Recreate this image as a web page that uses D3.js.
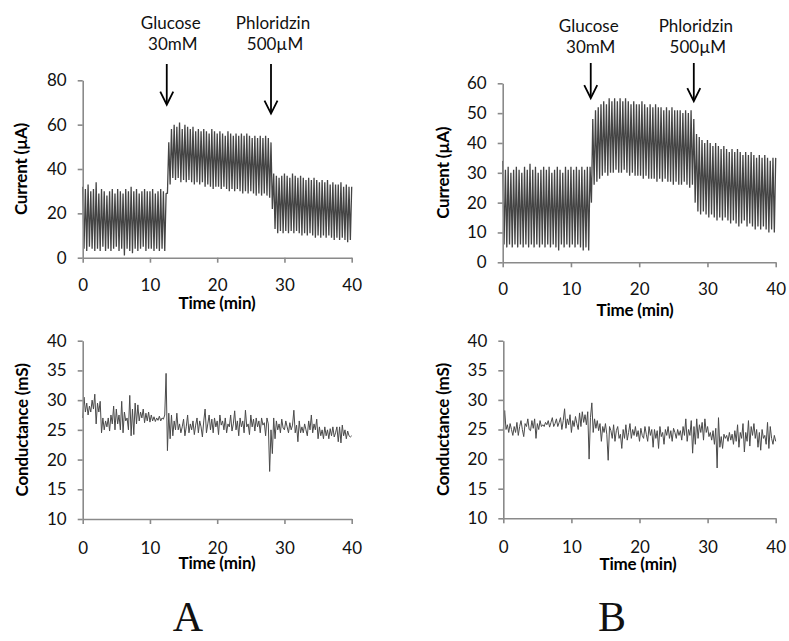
<!DOCTYPE html>
<html>
<head>
<meta charset="utf-8">
<script src="https://cdn.jsdelivr.net/npm/d3@7/dist/d3.min.js"></script>
<style>
  html, body { margin: 0; padding: 0; background: #fff; }
  svg { display: block; }
  text { font-family: Lato, "Open Sans", sans-serif; }
</style>
</head>
<body>
<script>
// ---------------- DATA ----------------
const timeStep = 0.2; // minutes between samples
const xTicks = [0, 10, 20, 30, 40];
const currentATicks = [0, 20, 40, 60, 80];
const currentBTicks = [0, 10, 20, 30, 40, 50, 60];
const conductanceTicks = [10, 15, 20, 25, 30, 35, 40];
const eventLabels = [["Glucose", "30mM"], ["Phloridzin", "500µM"]];
const eventTimesA = [12.5, 28];
const eventTimesB = [12.9, 28];
const arrowTipA = [69, 65];
const arrowTipB = [55, 54];
const panelLabels = ["A", "B"];

// Current trace, panel A (alternating peaks / troughs, µA)
const currentA = [
  32, 4, 31, 3, 33, 5, 30, 4, 31, 3,
  34, 4, 29, 3, 31, 5, 30, 3, 28, 4,
  30, 3, 31, 4, 29, 5, 31, 3, 30, 4,
  29, 1, 31, 4, 30, 3, 32, 2, 30, 4,
  31, 3, 29, 4, 30, 5, 31, 3, 30, 4,
  30, 4, 31, 3, 29, 4, 30, 3, 31, 4,
  30, 3, 29, 29, 52, 33, 58, 36,
  60, 35, 59, 36, 61, 34, 58, 35, 60, 34, 59, 35,
  58, 34, 59, 33, 57, 34, 58, 33, 57, 34,
  58, 32, 57, 33, 56, 32, 58, 31, 57, 32,
  56, 32, 57, 31, 56, 32, 55, 31, 57, 30,
  56, 31, 55, 30, 56, 31, 55, 30, 56, 29,
  55, 30, 56, 29, 55, 30, 54, 29, 55, 28,
  54, 29, 55, 28, 54, 29, 55, 28, 54, 27,
  52, 22, 38, 13, 37, 11, 36, 12, 37, 11,
  38, 12, 37, 11, 36, 12, 38, 11, 37, 12,
  36, 11, 37, 10, 36, 11, 35, 10, 36, 11,
  35, 10, 36, 9, 35, 10, 34, 9, 35, 10,
  34, 9, 35, 10, 33, 9, 34, 8, 33, 9,
  33, 8, 34, 9, 32, 8, 33, 7, 32, 8, 32
];

// Current trace, panel B (µA)
const currentB = [
  34, 6, 31, 5, 32, 6, 30, 5, 31, 6,
  32, 5, 31, 6, 30, 5, 32, 6, 31, 5,
  33, 6, 31, 5, 32, 6, 30, 5, 31, 6,
  32, 5, 31, 6, 32, 5, 30, 6, 31, 5,
  32, 4, 31, 6, 30, 5, 32, 6, 31, 5,
  32, 6, 31, 5, 32, 6, 31, 5, 32, 4,
  31, 5, 32, 4, 32, 20, 48, 26, 51, 27,
  52, 28, 53, 29, 54, 30, 53, 29, 55, 30,
  54, 30, 55, 31, 54, 30, 55, 30, 54, 31,
  55, 30, 54, 29, 53, 30, 54, 29, 53, 29,
  53, 29, 54, 28, 53, 29, 52, 28, 53, 28,
  52, 28, 53, 27, 52, 28, 52, 27, 51, 28,
  52, 27, 51, 27, 52, 26, 51, 27, 51, 26,
  51, 26, 50, 27, 51, 26, 50, 25, 51, 26,
  48, 20, 43, 17, 42, 16, 41, 17, 40, 16,
  41, 15, 40, 16, 39, 15, 40, 14, 39, 15,
  38, 14, 39, 15, 38, 14, 37, 13, 38, 14,
  37, 13, 38, 12, 37, 13, 36, 14, 37, 12,
  36, 13, 37, 12, 36, 11, 35, 12, 36, 11,
  35, 12, 36, 11, 35, 10, 34, 11, 35, 10, 35
];

// Conductance trace, panel A (mS)
const conductanceA = [
  27, 30.5, 28, 29.5, 27.5, 29, 28, 30, 28.5, 31,
  26, 29.5, 28, 29.8, 24.5, 27, 25, 26.5, 25.5, 27,
  24.8, 27.5, 26, 29, 25, 28.5, 26, 27.5, 25, 29.8,
  24.5, 28, 26.5, 27, 25, 30.8, 24, 28.5, 24.2, 29.5,
  26, 29.2, 26.5, 28, 27, 28.5, 26.2, 27.8, 26.5, 28,
  26.3, 27.5, 26.5, 27.2, 26.4, 27, 26.6, 27.3, 26.5, 27,
  26.8, 27.5, 34.5, 21.5, 27.8, 23.5, 27.5, 24, 26.5, 25,
  27.8, 25, 26, 24.5, 25.5, 26.8, 24, 25.5, 27.5, 24.5,
  26, 25, 26.5, 24.2, 25.8, 27, 24.5, 26.5, 25.5, 23.8,
  26.5, 28.5, 24.5, 26, 27.5, 25, 26.8, 24.5, 27, 25.5,
  26.5, 24.2, 27.5, 25.8, 26.5, 25, 27, 24.5, 26, 25.5,
  27.5, 24.8, 26, 28.2, 25, 26.5, 24, 27, 25.5, 26.5,
  24.5, 28.3, 25.5, 26, 24.2, 27.5, 25.5, 26.8, 24.8, 27,
  25.5, 26.5, 24.5, 27, 25.8, 26.2, 24, 27, 26, 18,
  25, 21, 27, 23.5, 26.5, 25, 26, 24.5, 26.8, 25.3,
  25, 26.5, 25.5, 24.5, 26.2, 25, 25.8, 28.3, 24.5, 25.8,
  23, 26.5, 24.5, 25.5, 24.5, 26, 25, 24, 26.5, 25,
  27.5, 24.5, 26, 25, 26.8, 23.5, 25.5, 24, 25, 23.5,
  25.5, 24, 25, 23.5, 25.2, 24, 25.5, 23.8, 24.5, 25.5,
  23, 25.5, 22.8, 25.8, 24, 25, 23.5, 24.8, 24, 23.8, 24
];

// Conductance trace, panel B (mS)
const conductanceB = [
  25, 28.2, 25, 25.8, 24.5, 26, 25, 24, 25.5, 24.5,
  26.2, 24, 25.5, 26.5, 25, 23.8, 26, 25.5, 26.8, 25,
  24.8, 26.5, 25.2, 26.8, 23.5, 26, 25, 26.5, 25.5, 25.8,
  25.5, 26.2, 25.8, 26.5, 25.4, 26.2, 27, 25.5, 26, 26.8,
  25.5, 26.2, 27, 25, 26.5, 28.5, 25.2, 26.8, 25.8, 27.5,
  24.5, 26.5, 25.5, 27.2, 26, 25, 27.8, 25.5, 28, 26.2,
  27.5, 25.8, 28, 20, 27, 29.5, 24.5, 26.8, 25.2, 26.5,
  24.8, 26, 23, 25.5, 24.5, 26, 24.2, 19.8, 25.5, 24.8,
  23.5, 25.8, 23, 24.8, 25.5, 23.5, 24.2, 21.8, 25, 23.5,
  25.8, 23.2, 24.5, 26, 23.5, 25, 24, 25.5, 23.8, 24.8,
  23, 25.2, 24, 23.5, 25.5, 24.2, 23, 25.5, 24, 25,
  22, 25, 23.5, 24.8, 21.8, 25.5, 23.8, 24.5, 22.5, 25,
  24, 25.5, 23.5, 24.8, 23, 25.2, 24.5, 23.5, 25, 24,
  24.8, 23.2, 25.5, 24, 26.8, 23, 25, 24, 26.5, 21,
  25.5, 22.5, 26.8, 23.5, 25.8, 24.5, 26.2, 23.2, 26.8, 24.5,
  25.5, 23.8, 24.5, 23.2, 24.8, 22.5, 25.2, 18.5, 27, 22,
  23.8, 21.8, 24.2, 23.5, 24, 23, 24.5, 23.2, 24.2, 22.5,
  24.8, 23, 25.8, 22, 24.5, 23.5, 26, 21.2, 24.5, 23,
  26.5, 22.2, 25.5, 24, 26, 23.5, 25, 22, 24.5, 21.5,
  25, 23.5, 24, 22.5, 26.2, 21.8, 25.5, 23.5, 22.5, 24, 23
];

// ---------------- DRAWING ----------------
const W = 789, H = 641;
const svg = d3.select("body").append("svg")
  .attr("width", W).attr("height", H)
  .style("background", "#fff");

const axisColor = "#8a8a8a";

const panels = [
  { box: [82.7, 351.7, 80.3, 257.7], domain: [0, 80], ticks: currentATicks, data: currentA,
    yTitle: "Current (µA)", yTitleX: 21, xPad: 16, xTitleX: 217, xTitleY: 309,
    events: eventTimesA, tips: arrowTipA, labelY: 29, arrowTop: 64, labelDx: [4, 2],
    color: "#444", width: 1.3 },
  { box: [502.7, 775.7, 83.3, 262.3], domain: [0, 60], ticks: currentBTicks, data: currentB,
    yTitle: "Current (µA)", yTitleX: 443, xPad: 16, xTitleX: 635, xTitleY: 316,
    events: eventTimesB, tips: arrowTipB, labelY: 32, arrowTop: 63, labelDx: [-2, 2],
    color: "#444", width: 1.3 },
  { box: [82.7, 351.7, 340.7, 519], domain: [10, 40], ticks: conductanceTicks, data: conductanceA,
    yTitle: "Conductance (mS)", yTitleX: 22, xPad: 18, xTitleX: 217, xTitleY: 569,
    color: "#4a4a4a", width: 1 },
  { box: [503.3, 775.7, 340.7, 518.3], domain: [10, 40], ticks: conductanceTicks, data: conductanceB,
    yTitle: "Conductance (mS)", yTitleX: 443, xPad: 18, xTitleX: 638, xTitleY: 570,
    color: "#4a4a4a", width: 1 }
];

panels.forEach(p => {
  const [x0, x1, y0, y1] = p.box;
  const x = d3.scaleLinear().domain([0, 40]).range([x0, x1]);
  const y = d3.scaleLinear().domain(p.domain).range([y1, y0]);
  const g = svg.append("g");

  // trace
  const line = d3.line()
    .x((d, i) => x(i * timeStep))
    .y(d => y(d));
  g.append("path")
    .datum(p.data)
    .attr("fill", "none")
    .attr("stroke", p.color)
    .attr("stroke-width", p.width)
    .attr("stroke-linejoin", "bevel")
    .attr("d", line);

  // axes
  const yAxis = d3.axisLeft(y).tickValues(p.ticks).tickSize(5).tickSizeOuter(0).tickPadding(11);
  const xAxis = d3.axisBottom(x).tickValues(xTicks).tickSize(5).tickSizeOuter(0).tickPadding(p.xPad);
  const ya = g.append("g").attr("transform", `translate(${x0},0)`).call(yAxis);
  const xa = g.append("g").attr("transform", `translate(0,${y1})`).call(xAxis);
  [ya, xa].forEach(a => {
    a.select(".domain").attr("stroke", axisColor).attr("stroke-width", 1.6);
    a.selectAll(".tick line").attr("stroke", axisColor).attr("stroke-width", 1.6);
    a.selectAll(".tick text").attr("fill", "#111").style("font-size", "17px")
      .style("font-family", "Lato, 'Open Sans', sans-serif");
  });

  // titles
  g.append("text")
    .attr("x", p.xTitleX).attr("y", p.xTitleY)
    .attr("text-anchor", "middle")
    .style("font-size", "17px").style("font-weight", "bold")
    .style("letter-spacing", "-0.2px")
    .text("Time (min)");
  g.append("text")
    .attr("transform", `translate(${p.yTitleX},${(y0 + y1) / 2}) rotate(-90)`)
    .attr("text-anchor", "middle")
    .attr("dy", "0.35em")
    .style("font-size", "17px").style("font-weight", "bold")
    .style("letter-spacing", "-0.2px")
    .text(p.yTitle);

  // event arrows and labels
  if (p.events) {
    p.events.forEach((t, k) => {
      const ax = x(t);
      const tipY = y(p.tips[k]);
      g.append("line")
        .attr("x1", ax).attr("x2", ax)
        .attr("y1", p.arrowTop).attr("y2", tipY - 1)
        .attr("stroke", "#000").attr("stroke-width", 1.8);
      g.append("path")
        .attr("d", `M${ax - 6.5},${tipY - 13} L${ax},${tipY} L${ax + 6.5},${tipY - 13}`)
        .attr("fill", "none").attr("stroke", "#000").attr("stroke-width", 1.8);
      const lbl = g.append("text")
        .attr("text-anchor", "middle")
        .style("font-size", "17px").attr("fill", "#111");
      lbl.append("tspan").attr("x", ax + p.labelDx[k]).attr("y", p.labelY).text(eventLabels[k][0]);
      lbl.append("tspan").attr("x", ax + p.labelDx[k] + 2).attr("y", p.labelY + 21).text(eventLabels[k][1]);
    });
  }
});

// panel letters
const letterX = [188, 612];
panelLabels.forEach((L, i) => {
  svg.append("text")
    .attr("x", letterX[i]).attr("y", 631)
    .attr("text-anchor", "middle")
    .style("font-family", "'Liberation Serif', 'DejaVu Serif', serif")
    .style("font-size", "42px")
    .attr("fill", "#111")
    .text(L);
});
</script>
</body>
</html>
